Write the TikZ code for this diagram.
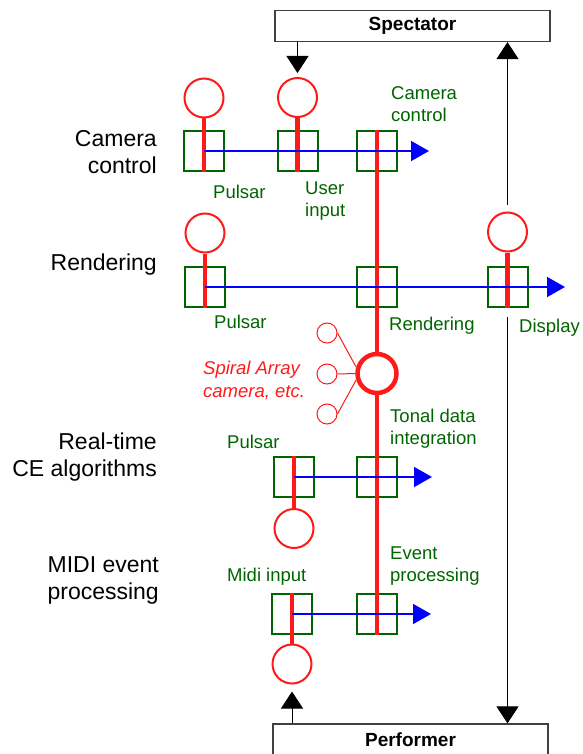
\documentclass[tikz,border=0pt]{standalone}
\usepackage{fontspec}
\setmainfont{Liberation Sans}
\usetikzlibrary{arrows.meta}
\definecolor{procred}{HTML}{FF1A1A}
\definecolor{stagegreen}{HTML}{006400}
\definecolor{flowblue}{HTML}{0000FF}
\tikzset{
  every picture/.style={line join=miter},
  stage/.style={draw=stagegreen, line width=2pt, minimum size=40pt, inner sep=0pt},
  proc/.style={circle, draw=procred, line width=2pt, fill=white, minimum size=39pt, inner sep=0pt},
  hub/.style={proc, line width=4.5pt},
  tap/.style={proc, line width=1pt, minimum size=20pt},
  stem/.style={procred, line width=4.3pt},
  flow/.style={flowblue, line width=1.5pt, -{Triangle[length=18pt, width=20pt]}},
  link/.style={line width=1pt, -{Triangle[length=17pt, width=22pt]}},
  actor/.style={draw=black!75, line width=1.2pt, minimum width=275pt, minimum height=31pt,
    inner sep=0pt, font=\fontsize{19}{22}\selectfont\bfseries},
  tag/.style={text=stagegreen, anchor=west, align=left, inner sep=0pt, font=\fontsize{18.5}{22}\selectfont},
  rowname/.style={anchor=east, align=right, inner sep=0pt, font=\fontsize{23}{27}\selectfont},
}
\begin{document}
\begin{tikzpicture}[x=1pt, y=-1pt]
  \clip (0,0) rectangle (582,754);
  % ---------- row names on the left
  \node[rowname] (rcam) at (157,152) {Camera\\control};
  \node[rowname] (rrend) at (157,265) {Rendering};
  \node[rowname] (rce) at (157,457) {Real-time\\CE algorithms};
  \node[rowname] (rmidi) at (159,580) {MIDI event\\processing};
  % ---------- spectator and performer
  \node[actor] (spec) at (412.5,26) {Spectator};
  \node[actor] (perf) at (410.5,739.5) {Performer};
  % ---------- main column: one stage per row, joined by the red line
  \node[stage] (cam) at (377,151) {};
  \node[stage] (rend) at (377,287) {};
  \node[stage] (tonal) at (377,477) {};
  \node[stage] (event) at (377,614) {};
  \draw[stem] (cam.north) -- (event.south);
  \node[hub] (hub) at (377,373.5) {};
  \node[tap] (t1) at (327,333) {};
  \node[tap] (t2) at (327,374) {};
  \node[tap] (t3) at (327,414) {};
  \draw[procred, line width=1pt] (t1.east) -- (hub.163) (t2.east) -- (hub.180) (t3.east) -- (hub.197);
  % ---------- camera control row
  \node[proc] (pc1) at (204,98) {};
  \node[stage] (pb1) at (204,151) {};
  \node[proc] (uc) at (297.5,97.5) {};
  \node[stage] (ub) at (297.5,151) {};
  \draw[stem] (pc1.south) -- (pb1.south);
  \draw[stem] (uc.south) -- (ub.south);
  \coordinate (e1) at (429,151);
  \draw[flow] (pb1.center) -- (e1);
  % ---------- rendering row
  \node[proc] (pc2) at (205,233) {};
  \node[stage] (pb2) at (205,287) {};
  \node[proc] (dc) at (507.5,232) {};
  \node[stage] (db) at (507.5,287) {};
  \draw[stem] (pc2.south) -- (pb2.south);
  \draw[stem] (dc.south) -- (db.south);
  \coordinate (e2) at (565,287);
  \draw[flow] (pb2.center) -- (e2);
  % ---------- CE row
  \node[stage] (pb3) at (294,477) {};
  \node[proc] (pc3) at (294,528.5) {};
  \draw[stem] (pb3.north) -- (pc3.north);
  \coordinate (e3) at (432,477);
  \draw[flow] (pb3.center) -- (e3);
  % ---------- MIDI row
  \node[stage] (pb4) at (292,614) {};
  \node[proc] (pc4) at (292,664) {};
  \draw[stem] (pb4.north) -- (pc4.north);
  \coordinate (e4) at (431,614);
  \draw[flow] (pb4.center) -- (e4);
  % ---------- links to and from the people
  \draw[link, shorten >=4pt] (spec.south -| uc) -- (uc.north);
  \draw[link, shorten <=7pt] (dc.north) -- (spec.south -| dc);
  \draw[link, shorten <=9pt] (db.south) -- (perf.north -| db);
  \draw[link, shorten >=7pt] (perf.north -| pc4) -- (pc4.south);
  % ---------- stage labels
  \node[tag] (lcam) at (391,104) {Camera\\control};
  \node[tag] (lp1) at (213,192) {Pulsar};
  \node[tag] (lui) at (305,201) {User\\input};
  \node[tag] (lp2) at (214,322) {Pulsar};
  \node[tag] (lrend) at (389,326) {Rendering};
  \node[tag] (ldisp) at (519,328) {Display};
  \node[tag] (ltonal) at (390,429) {Tonal data\\integration};
  \node[tag] (lp3) at (227,442) {Pulsar};
  \node[tag] (levent) at (390,566) {Event\\processing};
  \node[tag] (lmidi) at (227,577) {Midi input};
  \node[tag, text=procred, font=\fontsize{18.5}{23}\selectfont\itshape] (lspiral) at (203,380) {Spiral Array\\camera, etc.};
\end{tikzpicture}
\end{document}
